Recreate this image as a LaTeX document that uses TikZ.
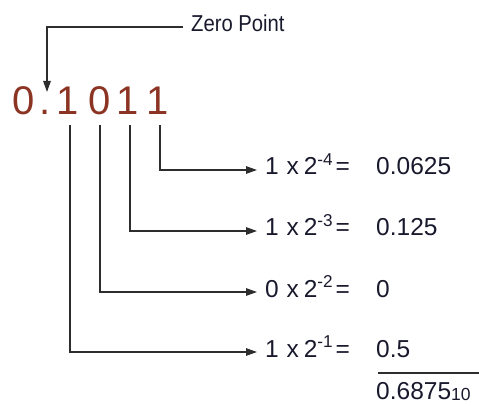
\documentclass[tikz,border=0pt]{standalone}
\usepackage{fontspec}
\setmainfont{Liberation Sans}
\usetikzlibrary{arrows.meta}
\definecolor{digitc}{RGB}{140,52,36}
\definecolor{eqc}{RGB}{25,25,45}
\definecolor{linec}{RGB}{45,45,45}
\tikzset{
  conn/.style={draw=linec, line width=1.3pt, -{Triangle[length=11pt,width=7.5pt]}},
  lead/.style={draw=linec, line width=1.3pt},
  bigdigit/.style={inner sep=0pt, anchor=base, text=digitc, font=\fontsize{40}{40}\selectfont},
  eqtext/.style={inner sep=0pt, anchor=base west, text=eqc, font=\fontsize{24.5}{25}\selectfont},
  label/.style={inner sep=0pt, anchor=base west, text=eqc, font=\fontsize{23}{24}\selectfont}
}
\newcommand{\eqn}[2]{#1\hspace{0.32em}x\hspace{0.2em}2\textsuperscript{-#2}\hspace{0.1em}=}
\begin{document}
\begin{tikzpicture}[x=1pt,y=-1pt]
\useasboundingbox (0,0) rectangle (479,406);
% Zero point label
\node[label] (zp) at (191,32) {\scalebox{0.88}[1]{Zero Point}};
\coordinate (zpt) at (47,92);
% binary number
\node[bigdigit] (d0) at (23.5,115) {0};
\node[bigdigit] (dot) at (45.5,115) {.};
\node[bigdigit] (d1) at (68,115) {1};
\node[bigdigit] (d2) at (100,115) {0};
\node[bigdigit] (d3) at (128,115) {1};
\node[bigdigit] (d4) at (158,115) {1};
% equations
\node[eqtext] (e4) at (265,175) {\eqn{1}{4}};
\node[eqtext] (e3) at (265,236) {\eqn{1}{3}};
\node[eqtext] (e2) at (265,297) {\eqn{0}{2}};
\node[eqtext] (e1) at (265,357) {\eqn{1}{1}};
\node[eqtext] (v4) at (376,175) {0.0625};
\node[eqtext] (v3) at (376,236) {0.125};
\node[eqtext] (v2) at (376,297) {0};
\node[eqtext] (v1) at (376,357) {0.5};
\node[eqtext] (sum) at (376,399) {0.6875\raisebox{-1pt}{\fontsize{17.5}{18}\selectfont 10}};
\coordinate (rs) at (378,373);
\coordinate (re) at (479,373);
% connectors
\draw[conn] ([shift={(-8pt,5pt)}]zp.base west) -| (zpt);
\draw[conn] ([shift={(2pt,-10pt)}]d4.base) |- ([shift={(-8pt,5pt)}]e4.base west);
\draw[conn] ([shift={(2pt,-10pt)}]d3.base) |- ([shift={(-8pt,5pt)}]e3.base west);
\draw[conn] ([shift={(0pt,-10pt)}]d2.base) |- ([shift={(-8pt,5pt)}]e2.base west);
\draw[conn] ([shift={(2pt,-10pt)}]d1.base) |- ([shift={(-8pt,5pt)}]e1.base west);
\draw[lead] (rs) -- (re);
\end{tikzpicture}
\end{document}
